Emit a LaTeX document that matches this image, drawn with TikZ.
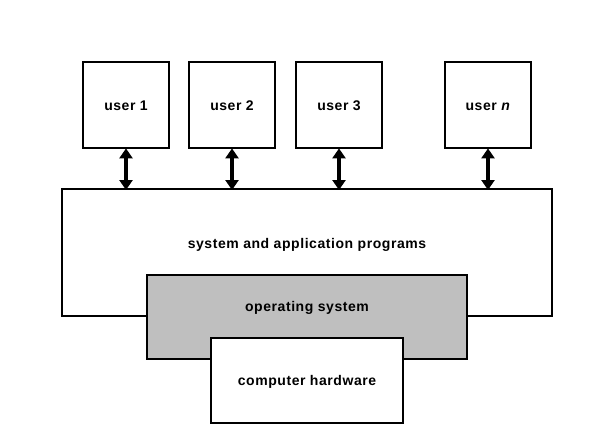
\documentclass[tikz,border=0pt]{standalone}
\usepackage{fontspec}
\setmainfont{Liberation Sans}
\newfontfamily\lblfont[LetterSpace=4]{Liberation Sans}
\usetikzlibrary{arrows.meta}
\begin{document}
\begin{tikzpicture}[x=1pt,y=-1pt,
  lbl/.style={font=\lblfont\bfseries\fontsize{14}{16}\selectfont,anchor=base,inner sep=0pt},
  box/.style={draw=black,line width=2.8pt,fill=white},
  osbox/.style={box,fill=black!25},
  userbox/.style={box,inner sep=0pt,minimum width=86pt,minimum height=86pt},
  link/.style={line width=3.4pt,{Triangle[length=10pt,width=13pt]}-{Triangle[length=10pt,width=13pt]},shorten <=-1pt,shorten >=-1pt}]
\useasboundingbox (0,0) rectangle (601,437);
\fill[white] (0,0) rectangle (601,437);
% big box
\draw[box] (62,189) rectangle (552,316);
\node[lbl] (sys) at (307,248) {system and application programs};
% OS
\draw[osbox] (147,275) rectangle (467,359);
\node[lbl] (os) at (307,311) {operating system};
% HW
\draw[box] (211,338) rectangle (403,423);
\node[lbl] (hw) at (307,385) {computer hardware};
% users
\node[userbox] (u1) at (126,105) {};
\node[userbox] (u2) at (232,105) {};
\node[userbox] (u3) at (339,105) {};
\node[userbox] (un) at (488,105) {};
\node[lbl] (t1) at (126,110) {user 1};
\node[lbl] (t2) at (232,110) {user 2};
\node[lbl] (t3) at (339,110) {user 3};
\node[lbl] (tn) at (488,110) {user \textit{n}};
\coordinate (b1) at (126,189);
\coordinate (b2) at (232,189);
\coordinate (b3) at (339,189);
\coordinate (bn) at (488,189);
\draw[link] (u1.south) -- (b1);
\draw[link] (u2.south) -- (b2);
\draw[link] (u3.south) -- (b3);
\draw[link] (un.south) -- (bn);
\end{tikzpicture}
\end{document}
